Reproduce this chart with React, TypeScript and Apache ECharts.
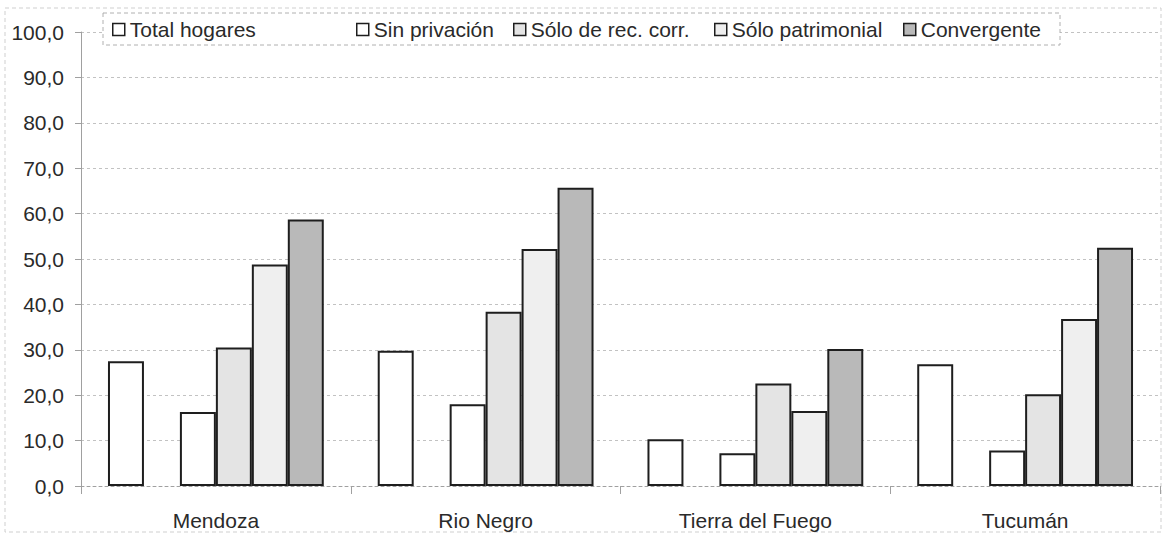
import React, { useEffect, useRef } from "react";
import * as echarts from "echarts";

const categories = ["Mendoza", "Rio Negro", "Tierra del Fuego", "Tucumán"];
const totalHogares = [27.5, 29.8, 10.3, 26.8];
const sinPrivacion = [16.3, 18.0, 7.2, 7.8];
const soloRecCorr = [30.5, 38.4, 22.6, 20.2];
const soloPatrimonial = [48.8, 52.2, 16.5, 36.8];
const convergente = [58.7, 65.7, 30.2, 52.5];
const seriesNames = ["Total hogares", "Sin privación", "Sólo de rec. corr.", "Sólo patrimonial", "Convergente"];
const yTicks = { min: 0, max: 100, interval: 10 };

const FONT = "'Liberation Sans', Arial, sans-serif";
const TXT = "#2a2a2a";

export default function App() {
  const ref = useRef<HTMLDivElement>(null);
  useEffect(() => {
    document.body.style.margin = "0";
    const chart = echarts.init(ref.current!, null, { renderer: "svg" });
    const bar = (name: string, data: (number | null)[], color: string) => ({
      name,
      type: "bar",
      data,
      barGap: "0%",
      barCategoryGap: "20%",
      itemStyle: { color, borderColor: "#1e1e1e", borderWidth: 2 },
      emphasis: { disabled: true },
    });
    const legendAt = (name: string, left: number) => ({
      data: [name],
      left,
      top: 19,
      padding: 0,
      itemWidth: 12,
      itemHeight: 12,
      icon: "rect",
      selectedMode: false,
      itemStyle: { borderColor: "#1e1e1e", borderWidth: 1.5 },
      textStyle: { fontFamily: FONT, fontSize: 21, color: TXT },
    });
    chart.setOption({
      animation: false,
      backgroundColor: "#ffffff",
      grid: { left: 81, right: 5, top: 32, bottom: 49 },
      graphic: [
        {
          type: "rect",
          shape: { x: 5, y: 8, width: 1156, height: 524 },
          style: { fill: "none", stroke: "#cfcfcf", lineWidth: 1, lineDash: [4, 3] },
          silent: true,
          z: -10,
        },
        {
          type: "rect",
          shape: { x: 103, y: 13, width: 957, height: 32 },
          style: { fill: "#ffffff", stroke: "#b0b0b0", lineWidth: 1, lineDash: [4, 3] },
          silent: true,
          z: 50,
        },
      ],
      legend: [
        legendAt(seriesNames[0], 112),
        legendAt(seriesNames[1], 356),
        legendAt(seriesNames[2], 513),
        legendAt(seriesNames[3], 714),
        legendAt(seriesNames[4], 903),
      ].map((l) => ({ ...l, z: 60 })),
      xAxis: {
        type: "category",
        data: categories,
        axisLine: { show: true, lineStyle: { color: "#a0a0a0", type: [3, 3], width: 1 } },
        axisTick: { show: true, length: 8, lineStyle: { color: "#a0a0a0" } },
        axisLabel: { fontFamily: FONT, fontSize: 21, color: TXT, margin: 24 },
      },
      yAxis: {
        type: "value",
        min: yTicks.min,
        max: yTicks.max,
        interval: yTicks.interval,
        axisLine: { show: true, lineStyle: { color: "#a0a0a0", width: 1 } },
        axisTick: { show: true, length: 6, lineStyle: { color: "#a0a0a0" } },
        axisLabel: {
          fontFamily: FONT,
          fontSize: 21,
          color: TXT,
          margin: 17,
          formatter: (v: number) => v.toFixed(1).replace(".", ","),
        },
        splitLine: { show: true, lineStyle: { color: "#c2c2c2", type: [3, 3], width: 1 } },
      },
      series: [
        bar(seriesNames[0], totalHogares, "#ffffff"),
        bar("_gap", categories.map(() => null), "#ffffff"),
        bar(seriesNames[1], sinPrivacion, "#ffffff"),
        bar(seriesNames[2], soloRecCorr, "#e4e4e4"),
        bar(seriesNames[3], soloPatrimonial, "#efefef"),
        bar(seriesNames[4], convergente, "#b9b9b9"),
      ],
    });
    return () => chart.dispose();
  }, []);
  return <div ref={ref} style={{ position: "fixed", left: 0, top: 0, width: 1165, height: 535 }} />;
}
